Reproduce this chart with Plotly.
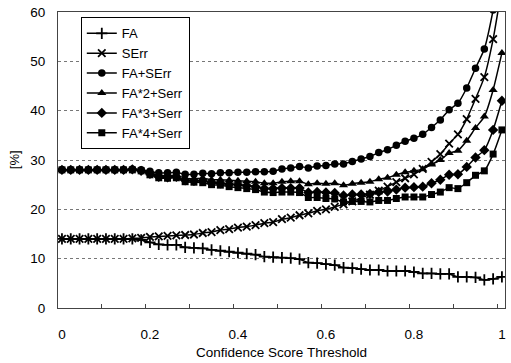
import plotly.graph_objects as go

thresholds = [round(i * 0.02, 2) for i in range(51)]

fa = [14.0, 14.0, 14.0, 14.0, 14.0, 14.0, 14.0, 14.0, 14.0, 13.8,
      13.3, 12.9, 12.8, 12.8, 12.3, 12.2, 12.1, 11.8, 11.6, 11.4,
      11.2, 11.0, 10.8, 10.4, 10.3, 10.2, 10.1, 9.9, 9.2, 9.1,
      8.9, 8.7, 8.2, 8.1, 7.9, 7.7, 7.7, 7.5, 7.5, 7.5,
      7.3, 7.0, 7.0, 6.9, 6.9, 6.3, 6.3, 6.2, 5.7, 5.9,
      6.3]

serr = [14.0, 14.0, 14.0, 14.0, 14.0, 14.0, 14.0, 14.0, 14.1, 14.2,
        14.4, 14.5, 14.6, 14.7, 14.8, 14.9, 15.2, 15.4, 15.8, 16.0,
        16.3, 16.5, 16.8, 17.2, 17.4, 18.0, 18.3, 18.8, 19.2, 19.7,
        20.0, 20.5, 21.0, 21.6, 22.3, 23.0, 23.8, 24.6, 25.5, 26.3,
        27.1, 28.2, 29.6, 31.2, 33.3, 35.2, 38.3, 42.4, 46.8, 54.5,
        65.0]

fa_serr = [28.0, 28.0, 28.0, 28.0, 28.0, 28.0, 28.0, 28.0, 28.1, 28.0,
           27.7, 27.4, 27.4, 27.5, 27.1, 27.1, 27.3, 27.2, 27.4, 27.4,
           27.5, 27.5, 27.6, 27.6, 27.7, 28.2, 28.4, 28.7, 28.4, 28.8,
           28.9, 29.2, 29.2, 29.7, 30.2, 30.7, 31.5, 32.1, 33.0, 33.8,
           34.4, 35.2, 36.6, 38.1, 40.2, 41.5, 44.6, 48.6, 52.5, 60.4,
           71.3]

fa2_serr = [28.0, 28.0, 28.0, 28.0, 28.0, 28.0, 28.0, 28.0, 28.1, 27.9,
            27.3, 26.9, 26.8, 26.9, 26.3, 26.2, 26.3, 26.0, 26.0, 25.9,
            25.8, 25.7, 25.6, 25.3, 25.3, 25.6, 25.7, 25.7, 25.1, 25.3,
            25.2, 25.3, 24.9, 25.2, 25.4, 25.6, 26.1, 26.4, 27.0, 27.5,
            27.8, 28.1, 29.1, 30.0, 31.4, 31.9, 33.9, 36.5, 38.8, 44.2,
            51.7]

fa3_serr = [28.0, 28.0, 28.0, 28.0, 28.0, 28.0, 28.0, 28.0, 28.1, 27.8,
            27.2, 26.6, 26.5, 26.6, 25.9, 25.8, 25.8, 25.4, 25.3, 25.1,
            25.0, 24.8, 24.6, 24.2, 24.2, 24.3, 24.3, 24.3, 23.4, 23.5,
            23.4, 23.3, 22.8, 23.0, 23.0, 23.1, 23.5, 23.6, 24.0, 24.4,
            24.5, 24.6, 25.3, 26.0, 27.0, 27.1, 28.6, 30.5, 32.0, 36.1,
            42.0]

fa4_serr = [28.0, 28.0, 28.0, 28.0, 28.0, 28.0, 28.0, 28.0, 28.0, 27.8,
            27.0, 26.4, 26.3, 26.4, 25.6, 25.5, 25.4, 25.0, 24.9, 24.6,
            24.4, 24.2, 24.0, 23.5, 23.4, 23.5, 23.5, 23.4, 22.4, 22.4,
            22.2, 22.1, 21.5, 21.6, 21.6, 21.5, 21.8, 21.8, 22.2, 22.5,
            22.5, 22.5, 23.0, 23.5, 24.4, 24.2, 25.4, 26.9, 27.8, 31.2,
            36.1]

series_names = ["FA", "SErr", "FA+SErr", "FA*2+Serr", "FA*3+Serr", "FA*4+Serr"]
x_tick_vals = [0, 0.2, 0.4, 0.6, 0.8, 1.0]
x_tick_text = ["0", "0.2", "0.4", "0.6", "0.8", "1"]
y_tick_vals = [0, 10, 20, 30, 40, 50, 60]

styles = [
    dict(symbol="cross-thin", size=8, line=dict(width=1.8, color="black")),
    dict(symbol="x-thin", size=7.5, line=dict(width=1.8, color="black")),
    dict(symbol="circle", size=7.5),
    dict(symbol="triangle-up", size=8),
    dict(symbol="diamond", size=8),
    dict(symbol="square", size=7),
]

fig = go.Figure()
for name, vals, st in zip(series_names, [fa, serr, fa_serr, fa2_serr, fa3_serr, fa4_serr], styles):
    fig.add_trace(go.Scatter(
        x=thresholds, y=vals, name=name, mode="lines+markers",
        line=dict(color="black", width=1.5, shape="spline", smoothing=0.5),
        marker=dict(color="black", **st),
    ))

font_family = "Liberation Sans, Arial, sans-serif"
fig.update_layout(
    width=511, height=363,
    margin=dict(l=58, r=5, t=11, b=54),
    paper_bgcolor="white", plot_bgcolor="white",
    font=dict(family=font_family, size=13, color="black"),
    showlegend=True,
    legend=dict(
        x=0.051, y=0.982, xanchor="left", yanchor="top",
        bgcolor="white", bordercolor="black", borderwidth=1,
        font=dict(size=13, color="black"), tracegroupgap=0,
        itemwidth=30,
    ),
    xaxis=dict(
        range=[-0.009, 1.007], tickmode="array", tickvals=x_tick_vals, ticktext=x_tick_text,
        ticks="", showgrid=False, zeroline=False,
        showline=True, linecolor="#444", linewidth=1, mirror=True,
        ticklabelstandoff=14, tickfont=dict(size=13.5),
        minor=dict(tickmode="array", tickvals=[round(-0.01 + 0.1 * k, 2) for k in range(1, 11)],
                   ticks="inside", ticklen=4, tickcolor="#444", showgrid=False),
        title=dict(text="Confidence Score Threshold", font=dict(size=13.5), standoff=6),
    ),
    yaxis=dict(
        range=[0, 60], tickmode="array", tickvals=y_tick_vals,
        ticks="", showgrid=True, gridcolor="#777", gridwidth=1, griddash="3px,3px",
        zeroline=False, showline=True, linecolor="#444", linewidth=1, mirror=True,
        ticklabelstandoff=9, tickfont=dict(size=13.5),
    ),
    annotations=[dict(
        text="[%]", xref="paper", yref="paper", x=-0.098, y=0.5,
        xanchor="center", yanchor="middle", textangle=-90, showarrow=False,
        font=dict(size=13),
    )],
)

fig.write_html("out.html")
